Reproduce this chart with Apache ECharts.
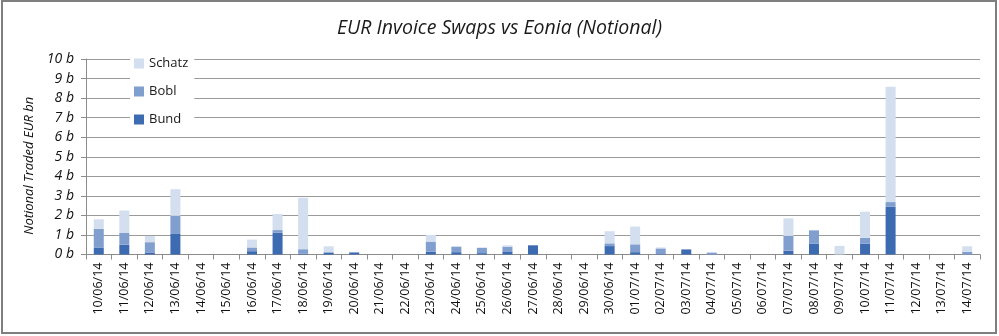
<!DOCTYPE html>
<html>
<head>
<meta charset="utf-8">
<script src="https://cdn.jsdelivr.net/npm/echarts@6/dist/echarts.min.js"></script>
<style>
  html, body { margin: 0; padding: 0; background: #fff; }
  #chart { width: 999px; height: 336px; }
</style>
</head>
<body>
<div id="chart"></div>
<script>
// Trade dates
const dates = [
  '10/06/14','11/06/14','12/06/14','13/06/14','14/06/14','15/06/14','16/06/14',
  '17/06/14','18/06/14','19/06/14','20/06/14','21/06/14','22/06/14','23/06/14',
  '24/06/14','25/06/14','26/06/14','27/06/14','28/06/14','29/06/14','30/06/14',
  '01/07/14','02/07/14','03/07/14','04/07/14','05/07/14','06/07/14','07/07/14',
  '08/07/14','09/07/14','10/07/14','11/07/14','12/07/14','13/07/14','14/07/14'
];

// Notional traded per contract, EUR bn
const bund = [
  0.36, 0.50, 0.08, 1.05, 0, 0, 0.17,
  1.12, 0.05, 0.10, 0.10, 0, 0, 0.14,
  0.12, 0.07, 0.16, 0.47, 0, 0, 0.43,
  0.12, 0.02, 0.26, 0, 0, 0, 0.20,
  0.56, 0, 0.56, 2.44, 0, 0, 0
];
const bobl = [
  0.95, 0.60, 0.55, 0.93, 0, 0, 0.19,
  0.13, 0.22, 0.02, 0.03, 0, 0, 0.52,
  0.28, 0.27, 0.24, 0, 0, 0, 0.14,
  0.40, 0.29, 0, 0.10, 0, 0, 0.75,
  0.68, 0, 0.29, 0.24, 0, 0, 0.14
];
const schatz = [
  0.49, 1.15, 0.32, 1.36, 0, 0, 0.40,
  0.82, 2.63, 0.30, 0, 0, 0, 0.34,
  0.02, 0.02, 0.07, 0, 0, 0, 0.62,
  0.91, 0.05, 0, 0.03, 0, 0, 0.90,
  0.02, 0.44, 1.34, 5.90, 0, 0, 0.28
];

const yTicks = { min: 0, max: 10, interval: 1 };

const colors = { bund: '#3d6bb1', bobl: '#809fcf', schatz: '#d3deef' };
const fontFam = '"Open Sans", "DejaVu Sans", sans-serif';

const chart = echarts.init(document.getElementById('chart'), null, { renderer: 'canvas' });

function barSeries(name, data, color) {
  return {
    name: name,
    type: 'bar',
    stack: 'total',
    data: data,
    barWidth: 10,
    itemStyle: { color: color },
    emphasis: { disabled: true }
  };
}

chart.setOption({
  animation: false,
  backgroundColor: '#ffffff',
  title: {
    text: 'EUR Invoice Swaps vs Eonia (Notional)',
    left: 'center',
    top: 13,
    textStyle: {
      fontFamily: fontFam,
      fontStyle: 'italic',
      fontWeight: 'normal',
      fontSize: 19.5,
      color: '#1a1a1a'
    }
  },
  legend: {
    data: ['Schatz', 'Bobl', 'Bund'],
    orient: 'vertical',
    left: 130,
    top: 55,
    itemWidth: 10,
    itemHeight: 10,
    itemGap: 15,
    backgroundColor: '#ffffff',
    padding: [2, 6, 2, 4],
    icon: 'rect',
    textStyle: { fontFamily: fontFam, fontSize: 13, color: '#1a1a1a' }
  },
  grid: { left: 86, right: 19, top: 59, bottom: 81.5, containLabel: false },
  xAxis: {
    type: 'category',
    data: dates,
    axisLine: { lineStyle: { color: '#8c8c8c', width: 1 } },
    axisTick: { show: true, length: 5, lineStyle: { color: '#8c8c8c' }, alignWithLabel: false },
    axisLabel: {
      rotate: 90,
      interval: 0,
      margin: 8,
      fontFamily: fontFam,
      fontSize: 12.5,
      color: '#111111'
    }
  },
  yAxis: {
    type: 'value',
    min: yTicks.min,
    max: yTicks.max,
    interval: yTicks.interval,
    name: 'Notional Traded EUR bn',
    nameLocation: 'middle',
    nameGap: 50,
    nameTextStyle: {
      fontFamily: fontFam,
      fontStyle: 'italic',
      fontSize: 13,
      color: '#111111',
      padding: [0, 18, 0, 0]
    },
    axisLine: { show: true, lineStyle: { color: '#8c8c8c' } },
    axisTick: { show: true, length: 5, lineStyle: { color: '#8c8c8c' } },
    axisLabel: {
      formatter: '{value} b',
      margin: 12,
      fontFamily: fontFam,
      fontStyle: 'italic',
      fontSize: 14,
      color: '#111111'
    },
    splitLine: { lineStyle: { color: '#9a9a9a', width: 1 } }
  },
  graphic: [{
    type: 'rect',
    shape: { x: 2, y: 1, width: 994, height: 332 },
    style: { fill: 'none', stroke: '#7f7f7f', lineWidth: 2 },
    silent: true
  }],
  series: [
    barSeries('Bund', bund, colors.bund),
    barSeries('Bobl', bobl, colors.bobl),
    barSeries('Schatz', schatz, colors.schatz)
  ]
});
</script>
</body>
</html>
